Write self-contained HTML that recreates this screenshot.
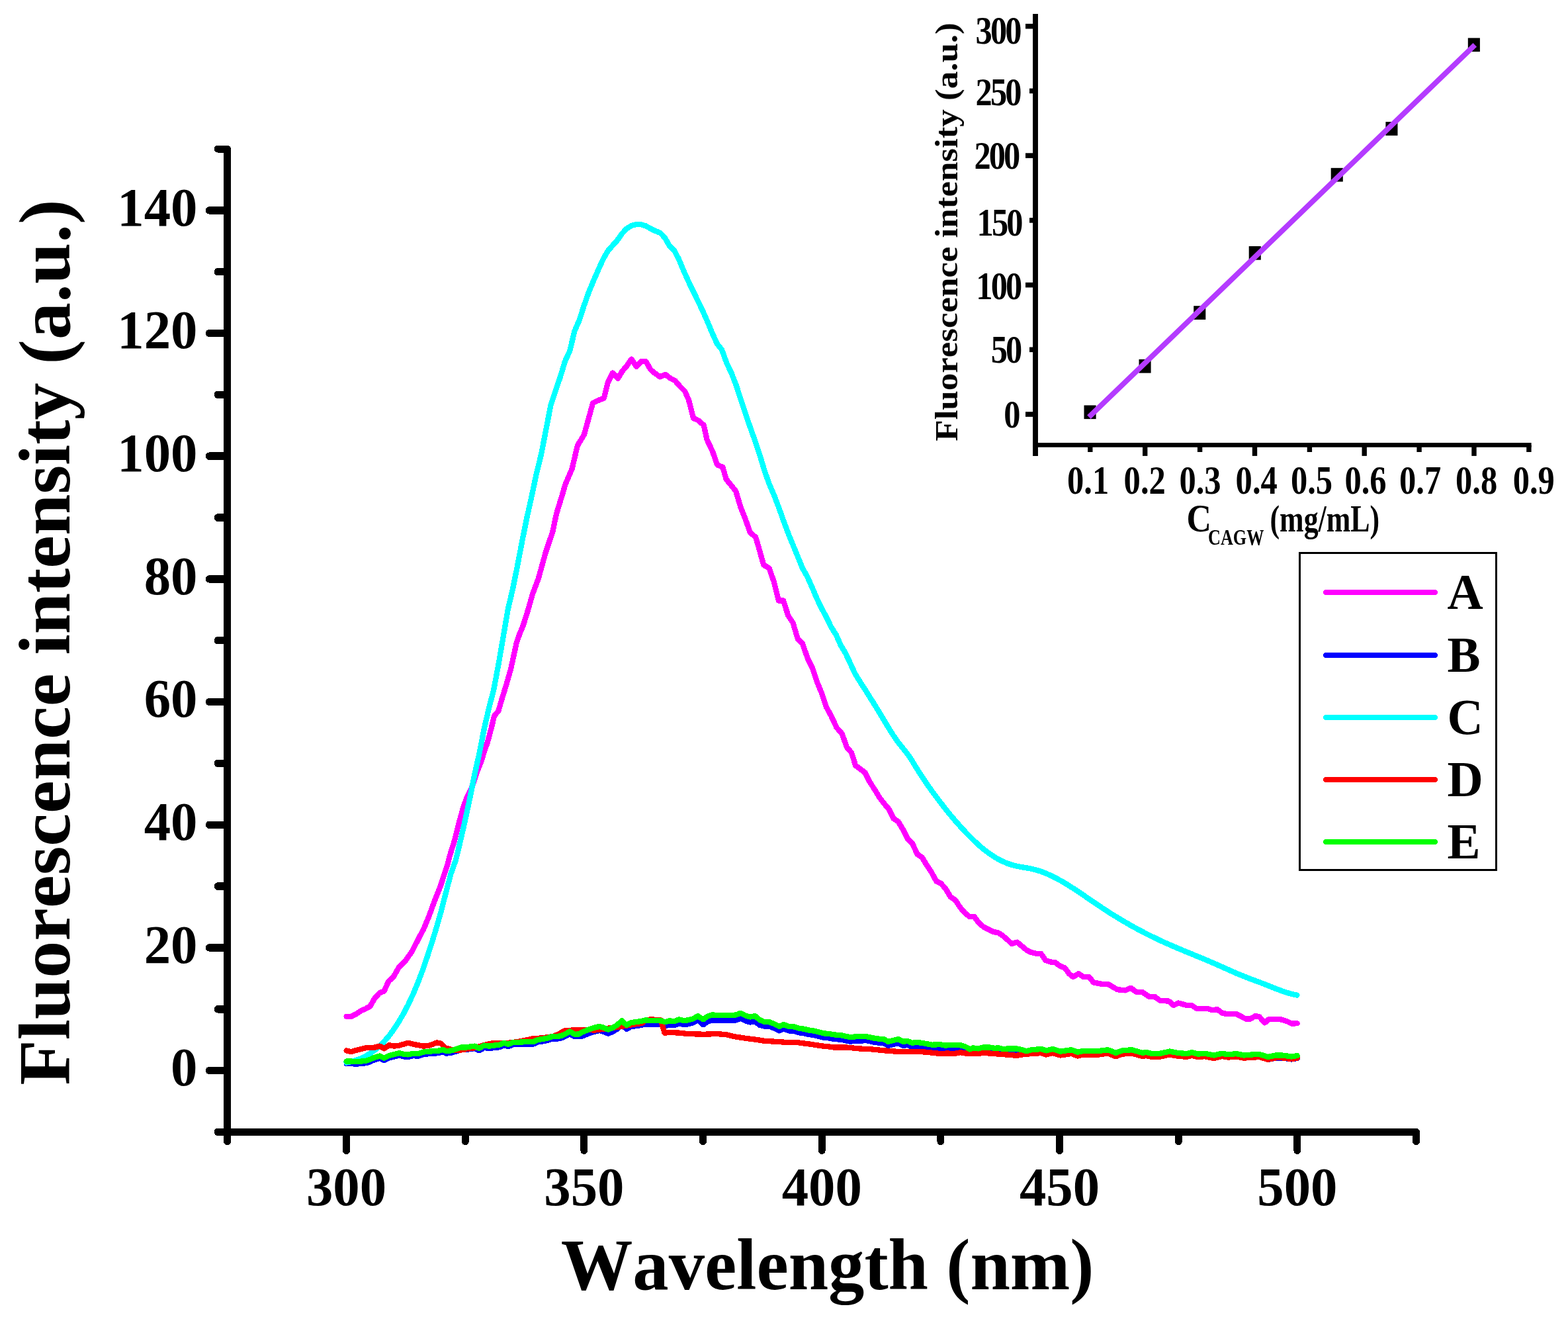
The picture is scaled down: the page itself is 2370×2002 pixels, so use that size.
<!DOCTYPE html>
<html lang="en">
<head>
<meta charset="utf-8">
<title>Fluorescence spectra</title>
<style>
html,body{margin:0;padding:0;background:#fff;}
body{width:2370px;height:2002px;overflow:hidden;}
svg{display:block;}
text{font-family:"Liberation Serif", "DejaVu Serif", serif;font-weight:bold;fill:#000;font-kerning:none;}
</style>
</head>
<body>
<svg width="2370" height="2002" viewBox="0 0 2370 2002">
<rect x="0" y="0" width="2370" height="2002" fill="#fff"/>
<g fill="none" stroke-width="8.3" stroke-linejoin="round" stroke-linecap="round" shape-rendering="crispEdges">
<polyline stroke="#ff00ff" points="523.6,1535.9 531.6,1535.6 538.3,1532.1 546.0,1526.9 552.7,1524.1 559.4,1520.6 566.1,1508.7 573.8,1500.1 580.5,1497.6 587.3,1482.6 594.8,1475.9 602.4,1462.3 612.1,1452.6 622.8,1437.5 631.5,1420.3 640.1,1404.1 648.7,1383.6 657.3,1359.9 665.9,1338.4 676.4,1306.3 680.4,1291.0 687.1,1269.7 694.2,1241.4 700.2,1220.1 705.2,1205.9 712.3,1191.7 717.3,1177.6 722.2,1163.4 727.9,1149.2 732.1,1135.0 737.1,1120.9 742.8,1099.6 747.0,1081.9 753.4,1074.1 758.6,1056.2 765.3,1034.5 772.1,1010.7 780.9,970.5 785.7,957.1 790.7,945.2 798.2,921.4 805.0,897.6 813.9,873.8 820.5,850.0 824.6,835.2 829.2,821.4 835.3,803.6 841.1,776.0 849.5,749.0 854.5,731.7 864.5,708.7 872.9,673.2 882.9,656.8 888.9,635.2 896.1,608.9 903.3,605.3 912.8,601.7 918.8,577.8 926.0,563.4 933.9,571.8 940.4,561.0 947.6,552.6 954.3,542.6 961.9,553.8 969.1,546.2 976.3,546.2 983.5,558.6 990.7,564.6 997.8,569.4 1005.7,565.8 1013.4,571.8 1020.6,575.4 1027.8,583.8 1035.0,590.9 1040.9,604.1 1048.1,631.7 1055.3,635.2 1063.7,642.4 1068.5,664.0 1076.9,681.9 1084.1,702.3 1092.4,705.9 1097.6,724.0 1112.3,742.3 1119.4,766.2 1126.6,784.2 1133.8,804.5 1142.2,811.7 1148.2,832.1 1154.2,853.6 1162.5,858.4 1169.7,878.8 1176.9,907.5 1184.1,907.5 1191.3,930.2 1198.5,941.0 1205.7,965.0 1212.8,972.1 1221.2,996.1 1228.4,1010.5 1235.6,1032.0 1241.6,1046.4 1248.8,1067.9 1256.6,1082.3 1264.4,1099.1 1272.7,1108.7 1279.9,1129.0 1287.1,1137.4 1293.1,1156.6 1307.5,1167.3 1314.7,1181.7 1321.8,1192.5 1329.0,1204.5 1336.2,1214.0 1343.4,1222.4 1350.6,1236.8 1357.8,1241.6 1364.9,1253.5 1372.1,1267.9 1379.3,1275.1 1386.5,1290.7 1393.7,1295.5 1400.9,1307.4 1408.0,1318.2 1415.2,1331.4 1422.4,1335.0 1429.6,1343.3 1436.8,1355.3 1444.0,1360.1 1451.1,1370.9 1458.3,1379.3 1465.5,1385.2 1472.7,1385.2 1479.9,1394.8 1487.1,1400.8 1494.3,1404.4 1501.4,1408.0 1508.6,1409.2 1515.8,1414.0 1523.0,1420.0 1529.0,1426.0 1537.4,1423.6 1544.5,1429.5 1551.7,1435.5 1558.9,1439.1 1566.1,1440.8 1573.3,1440.8 1580.5,1451.1 1587.6,1453.5 1594.8,1454.0 1602.0,1459.5 1609.5,1462.4 1615.9,1471.2 1621.8,1476.0 1630.2,1471.2 1637.4,1476.0 1645.8,1476.0 1653.0,1484.4 1664.9,1486.8 1674.5,1486.8 1688.9,1495.2 1700.9,1496.4 1709.2,1492.8 1717.6,1498.8 1726.0,1498.8 1736.8,1505.9 1745.2,1505.9 1753.5,1511.9 1766.7,1512.6 1773.9,1519.1 1781.1,1515.5 1794.3,1519.1 1801.4,1519.1 1808.6,1523.9 1825.4,1523.9 1832.6,1526.3 1839.8,1525.1 1848.1,1531.1 1858.9,1532.3 1868.5,1531.8 1882.9,1539.5 1890.0,1539.5 1897.2,1535.2 1903.2,1535.9 1911.6,1545.5 1917.6,1540.2 1935.5,1540.2 1945.1,1543.1 1952.3,1546.6 1960.7,1546.2"/>
<polyline stroke="#0000ff" points="523.6,1607.1 530.7,1607.1 538.3,1607.6 546.0,1607.1 553.6,1606.1 559.4,1604.2 566.1,1601.3 573.8,1599.0 580.5,1602.3 588.1,1598.4 595.8,1596.5 603.4,1594.6 611.1,1596.5 616.9,1596.9 624.5,1595.2 632.2,1595.6 639.8,1593.1 647.5,1592.3 655.2,1591.7 662.8,1591.2 669.5,1589.4 674.3,1591.7 682.0,1590.8 689.7,1588.5 697.3,1586.0 705.0,1586.0 710.7,1585.0 717.4,1584.1 724.1,1587.3 731.8,1583.1 739.5,1584.1 747.1,1583.1 754.8,1582.2 761.5,1579.3 768.2,1581.2 775.9,1578.3 783.5,1578.3 791.2,1577.8 798.9,1577.8 806.5,1577.4 813.2,1574.5 819.9,1573.5 827.6,1572.0 834.3,1569.7 841.0,1569.7 847.7,1568.7 854.4,1565.9 861.1,1562.0 868.8,1566.3 875.5,1565.9 880.0,1565.5 889.6,1561.7 898.2,1558.8 905.9,1556.9 912.6,1558.8 919.3,1561.7 926.0,1558.8 932.7,1555.0 939.8,1548.3 947.0,1555.0 953.8,1551.1 960.5,1550.2 968.1,1549.2 975.8,1547.3 983.4,1548.3 991.1,1548.3 998.8,1548.3 1005.5,1550.2 1012.2,1548.3 1018.9,1549.2 1026.6,1546.3 1033.3,1548.3 1040.0,1547.3 1047.6,1545.4 1054.7,1541.2 1063.0,1548.3 1069.7,1543.6 1077.3,1541.3 1084.0,1542.2 1090.7,1542.2 1098.4,1542.2 1106.1,1542.2 1112.8,1541.3 1119.5,1538.8 1127.1,1542.6 1133.8,1544.5 1141.5,1543.2 1148.2,1548.9 1155.9,1550.7 1162.6,1550.7 1170.2,1553.5 1177.9,1557.4 1184.6,1554.5 1192.3,1557.4 1199.9,1557.8 1207.6,1560.3 1215.2,1561.2 1222.9,1563.1 1230.6,1564.1 1238.2,1566.0 1245.9,1567.9 1253.6,1568.5 1260.0,1569.8 1271.5,1570.8 1284.9,1573.7 1294.5,1572.7 1309.8,1572.2 1323.2,1575.1 1336.6,1576.4 1342.4,1579.9 1350.0,1578.0 1357.7,1576.0 1365.4,1579.9 1371.1,1578.9 1378.8,1581.8 1386.4,1580.8 1397.9,1582.7 1409.4,1584.7 1420.9,1584.1 1428.6,1585.6 1436.2,1585.0 1449.7,1584.7 1459.2,1585.5 1465.9,1589.4 1470.7,1587.4 1478.4,1588.4 1486.1,1586.5 1495.6,1586.5 1503.3,1587.8 1509.0,1587.4 1516.7,1589.0 1524.4,1588.4 1535.9,1588.4 1545.4,1590.3 1551.2,1592.2 1558.9,1590.3 1573.9,1589.0 1581.1,1591.4 1590.7,1589.0 1602.7,1592.6 1619.4,1590.2 1629.0,1593.8 1636.2,1592.1 1660.2,1592.1 1674.5,1590.2 1686.5,1594.9 1696.1,1591.4 1710.4,1590.2 1727.2,1594.9 1732.0,1593.8 1741.6,1596.1 1753.5,1595.7 1767.9,1592.6 1779.9,1594.9 1794.3,1596.1 1801.4,1594.2 1811.0,1596.6 1820.6,1595.7 1835.0,1598.5 1846.9,1595.7 1856.5,1597.3 1868.5,1596.1 1880.5,1598.5 1894.8,1597.3 1904.4,1597.3 1916.4,1600.9 1928.4,1598.5 1937.9,1598.5 1952.3,1600.5 1960.7,1599.0"/>
<polyline stroke="#00ffff" points="523.5,1605.5 530.7,1604.1 537.9,1602.1 545.1,1599.4 552.2,1596.0 559.4,1591.8 566.6,1586.6 573.8,1580.5 581.0,1573.2 588.2,1564.9 595.3,1555.2 602.5,1544.3 609.7,1531.9 616.9,1518.1 624.1,1502.7 631.3,1485.6 638.5,1466.7 645.6,1446.2 652.8,1424.2 660.0,1400.7 667.2,1375.2 674.4,1347.1 681.6,1320.0 688.7,1300.3 695.9,1270.8 703.1,1239.0 710.3,1205.5 717.5,1169.5 724.7,1137.4 731.9,1100.4 739.0,1070.0 746.2,1042.4 753.4,1004.2 760.6,962.5 767.8,920.6 775.0,890.0 782.1,854.8 789.3,817.3 796.5,781.7 803.7,749.5 810.9,715.3 818.1,686.2 825.2,649.7 832.4,612.6 839.6,590.6 846.8,569.7 854.0,546.0 861.2,530.3 868.4,500.4 875.5,484.1 882.7,461.8 889.9,441.5 897.1,424.1 904.3,407.7 911.5,391.9 918.6,379.4 925.8,371.1 933.0,363.2 940.2,352.8 947.4,345.3 954.6,341.0 961.8,339.0 968.9,339.1 976.1,341.4 983.3,345.4 990.5,349.0 997.7,351.7 1004.9,359.1 1012.0,371.7 1019.2,378.3 1026.4,392.5 1033.6,409.8 1040.8,425.7 1048.0,440.7 1055.2,455.2 1062.3,470.2 1069.5,486.4 1076.7,503.6 1083.9,519.5 1091.1,528.6 1098.3,548.4 1105.4,563.3 1112.6,581.8 1119.8,603.7 1127.0,625.8 1134.2,646.4 1141.4,666.6 1148.6,688.2 1155.7,711.8 1162.9,731.8 1170.1,748.5 1177.3,767.3 1184.5,787.5 1191.7,806.8 1198.8,824.0 1206.0,841.5 1213.2,859.1 1220.4,871.6 1227.6,887.8 1234.8,904.7 1242.0,919.4 1249.1,932.6 1256.3,947.5 1263.5,958.7 1270.7,974.9 1277.9,986.8 1285.1,1002.0 1292.2,1017.6 1299.4,1029.3 1306.6,1040.4 1313.8,1051.8 1321.0,1063.3 1328.2,1075.0 1335.3,1086.9 1342.5,1098.8 1349.7,1110.3 1356.9,1120.7 1364.1,1129.7 1371.3,1138.7 1378.5,1149.4 1385.6,1161.0 1392.8,1172.4 1400.0,1183.1 1407.2,1193.3 1414.4,1203.1 1421.6,1212.6 1428.7,1221.8 1435.9,1230.7 1443.1,1239.2 1450.3,1247.4 1457.5,1255.3 1464.7,1262.8 1471.9,1269.9 1479.0,1276.6 1486.2,1282.7 1493.4,1288.2 1500.6,1293.2 1507.8,1297.6 1515.0,1301.3 1522.1,1304.4 1529.3,1306.8 1536.5,1308.7 1543.7,1310.0 1550.9,1311.2 1558.1,1312.5 1565.3,1314.2 1572.4,1316.4 1579.6,1319.1 1586.8,1322.2 1594.0,1325.7 1601.2,1329.5 1608.4,1333.6 1615.5,1338.0 1622.7,1342.6 1629.9,1347.3 1637.1,1352.2 1644.3,1357.1 1651.5,1362.0 1658.7,1366.9 1665.8,1371.7 1673.0,1376.4 1680.2,1381.0 1687.4,1385.4 1694.6,1389.8 1701.8,1394.0 1708.9,1398.1 1716.1,1402.1 1723.3,1405.9 1730.5,1409.7 1737.7,1413.3 1744.9,1416.8 1752.0,1420.3 1759.2,1423.6 1766.4,1426.8 1773.6,1429.9 1780.8,1433.0 1788.0,1436.0 1795.2,1439.0 1802.3,1441.9 1809.5,1444.9 1816.7,1447.8 1823.9,1450.8 1831.1,1453.9 1838.3,1457.0 1845.4,1460.2 1852.6,1463.4 1859.8,1466.6 1867.0,1469.8 1874.2,1472.8 1881.4,1475.7 1888.6,1478.5 1895.7,1481.2 1902.9,1483.8 1910.1,1486.6 1917.3,1489.4 1924.5,1492.3 1931.7,1495.1 1938.8,1497.7 1946.0,1500.1 1953.2,1502.1 1960.4,1503.6"/>
<polyline stroke="#ff0000" points="523.6,1587.3 530.7,1589.2 538.3,1586.9 546.0,1585.0 553.6,1583.1 561.3,1582.9 567.0,1582.5 573.8,1580.6 580.5,1584.4 588.1,1579.2 595.8,1580.6 603.4,1579.6 610.2,1577.7 616.9,1575.8 624.5,1577.7 632.2,1579.2 639.8,1580.6 647.5,1580.0 653.3,1578.1 660.0,1575.4 666.7,1576.7 673.4,1583.4 682.0,1585.7 691.6,1587.3 703.1,1585.4 716.5,1583.4 729.9,1579.6 741.4,1576.7 754.8,1575.8 768.2,1575.8 783.5,1573.9 795.0,1571.6 806.5,1569.1 818.0,1568.5 835.2,1566.2 844.8,1562.4 852.5,1557.6 864.0,1556.6 883.1,1555.7 899.2,1556.6 918.3,1553.8 937.5,1551.3 956.6,1548.0 970.0,1546.1 975.8,1541.7 983.4,1540.3 998.8,1541.3 1004.5,1560.5 1014.1,1560.1 1025.6,1560.5 1039.0,1562.0 1063.9,1562.8 1083.1,1562.0 1098.4,1563.3 1109.9,1566.2 1129.0,1569.1 1144.4,1571.0 1155.9,1572.9 1175.0,1573.9 1186.5,1574.8 1205.7,1575.2 1224.8,1577.7 1244.0,1580.6 1253.6,1581.5 1260.0,1582.5 1279.2,1582.5 1298.3,1584.4 1317.5,1585.4 1336.6,1587.3 1355.8,1588.8 1374.9,1589.2 1394.1,1589.2 1413.3,1591.1 1420.9,1592.1 1432.4,1591.5 1442.0,1592.1 1451.6,1590.2 1463.1,1592.1 1489.9,1591.1 1509.0,1592.6 1528.2,1594.0 1535.9,1594.9 1548.7,1592.9 1573.9,1591.1 1581.1,1593.5 1590.7,1591.0 1602.7,1594.5 1619.4,1592.0 1629.0,1595.5 1636.2,1593.8 1660.2,1593.6 1674.5,1591.6 1686.5,1596.3 1696.1,1592.7 1710.4,1591.4 1727.2,1596.1 1732.0,1594.9 1741.6,1597.2 1753.5,1596.6 1767.9,1593.4 1779.9,1595.7 1794.3,1596.8 1801.4,1594.9 1811.0,1597.2 1820.6,1596.2 1835.0,1599.0 1846.9,1596.0 1856.5,1597.6 1868.5,1596.3 1880.5,1598.7 1894.8,1597.4 1904.4,1597.3 1916.4,1600.8 1928.4,1598.3 1937.9,1598.3 1952.3,1600.1 1960.7,1598.6"/>
<polyline stroke="#00ff00" points="523.6,1603.6 530.7,1603.6 538.3,1604.1 546.0,1603.6 553.6,1602.6 559.4,1600.7 566.1,1597.8 573.8,1595.5 580.5,1598.8 588.1,1594.9 595.8,1593.0 603.4,1591.1 611.1,1593.0 616.9,1593.4 624.5,1591.7 632.2,1592.1 639.8,1589.6 647.5,1588.8 655.2,1588.2 662.8,1587.7 669.5,1585.9 674.3,1588.2 682.0,1587.3 689.7,1585.0 697.3,1582.5 705.0,1582.5 710.7,1581.5 717.4,1580.6 724.1,1583.8 731.8,1579.6 739.5,1580.6 747.1,1579.6 754.8,1578.7 761.5,1575.8 768.2,1577.7 775.9,1574.8 783.5,1574.8 791.2,1574.3 798.9,1574.3 806.5,1573.9 813.2,1571.0 819.9,1570.0 827.6,1568.5 834.3,1566.2 841.0,1566.2 847.7,1565.2 854.4,1562.4 861.1,1558.5 868.8,1562.8 875.5,1562.4 880.0,1559.5 889.6,1555.7 898.2,1552.8 905.9,1550.9 912.6,1552.8 919.3,1555.7 926.0,1552.8 932.7,1549.0 939.8,1542.3 947.0,1549.0 953.8,1545.1 960.5,1544.2 968.1,1543.2 975.8,1541.3 983.4,1542.3 991.1,1542.3 998.8,1542.3 1005.5,1544.2 1012.2,1542.3 1018.9,1543.2 1026.6,1540.3 1033.3,1542.3 1040.0,1541.3 1047.6,1539.4 1054.7,1535.2 1063.0,1540.3 1069.7,1535.6 1077.3,1533.3 1084.0,1534.2 1090.7,1534.2 1098.4,1534.2 1106.1,1534.2 1112.8,1533.3 1119.5,1530.8 1127.1,1534.6 1133.8,1536.5 1141.5,1535.2 1148.2,1540.9 1155.9,1544.2 1162.6,1544.2 1170.2,1547.0 1177.9,1550.9 1184.6,1548.0 1192.3,1550.9 1199.9,1551.3 1207.6,1553.8 1215.2,1554.7 1222.9,1556.6 1230.6,1557.6 1238.2,1559.5 1245.9,1561.4 1253.6,1562.0 1260.0,1563.3 1271.5,1564.3 1284.9,1567.2 1294.5,1566.2 1309.8,1566.2 1323.2,1569.1 1336.6,1570.4 1342.4,1573.9 1350.0,1572.0 1357.7,1570.0 1365.4,1573.9 1371.1,1572.9 1378.8,1575.8 1386.4,1574.8 1397.9,1576.7 1409.4,1578.7 1420.9,1578.1 1428.6,1579.6 1436.2,1579.0 1449.7,1578.7 1459.2,1581.5 1465.9,1585.4 1470.7,1583.4 1478.4,1584.4 1486.1,1582.5 1495.6,1582.5 1503.3,1583.8 1509.0,1583.4 1516.7,1585.0 1524.4,1584.4 1535.9,1584.4 1545.4,1586.3 1551.2,1588.2 1558.9,1586.3 1573.9,1585.0 1581.1,1587.4 1590.7,1585.0 1602.7,1588.6 1619.4,1586.2 1629.0,1589.8 1636.2,1588.1 1660.2,1588.1 1674.5,1586.2 1686.5,1590.9 1696.1,1587.4 1710.4,1586.2 1727.2,1590.9 1732.0,1589.8 1741.6,1592.1 1753.5,1591.7 1767.9,1588.6 1779.9,1590.9 1794.3,1592.1 1801.4,1590.2 1811.0,1592.6 1820.6,1591.7 1835.0,1594.5 1846.9,1591.7 1856.5,1593.3 1868.5,1592.1 1880.5,1594.5 1894.8,1593.3 1904.4,1593.3 1916.4,1596.9 1928.4,1594.5 1937.9,1594.5 1952.3,1596.5 1960.7,1595.0"/>
</g>
<g stroke="#000" fill="none" stroke-linecap="round" stroke-linejoin="round" shape-rendering="crispEdges">
<path d="M329.3,225.1 L343.6,225.1 L343.6,1724.6" stroke-width="11"/>
<path d="M329.3,1710.6 L2140.6,1710.6 L2140.6,1724.6" stroke-width="11"/>
<line x1="329.3" y1="1710.4" x2="341.6" y2="1710.4" stroke-width="11.5"/>
<line x1="316.5" y1="1617.6" x2="341.6" y2="1617.6" stroke-width="11.5"/>
<line x1="329.3" y1="1524.8" x2="341.6" y2="1524.8" stroke-width="11.5"/>
<line x1="316.5" y1="1431.9" x2="341.6" y2="1431.9" stroke-width="11.5"/>
<line x1="329.3" y1="1339.1" x2="341.6" y2="1339.1" stroke-width="11.5"/>
<line x1="316.5" y1="1246.3" x2="341.6" y2="1246.3" stroke-width="11.5"/>
<line x1="329.3" y1="1153.4" x2="341.6" y2="1153.4" stroke-width="11.5"/>
<line x1="316.5" y1="1060.6" x2="341.6" y2="1060.6" stroke-width="11.5"/>
<line x1="329.3" y1="967.7" x2="341.6" y2="967.7" stroke-width="11.5"/>
<line x1="316.5" y1="874.9" x2="341.6" y2="874.9" stroke-width="11.5"/>
<line x1="329.3" y1="782.1" x2="341.6" y2="782.1" stroke-width="11.5"/>
<line x1="316.5" y1="689.2" x2="341.6" y2="689.2" stroke-width="11.5"/>
<line x1="329.3" y1="596.4" x2="341.6" y2="596.4" stroke-width="11.5"/>
<line x1="316.5" y1="503.6" x2="341.6" y2="503.6" stroke-width="11.5"/>
<line x1="329.3" y1="410.7" x2="341.6" y2="410.7" stroke-width="11.5"/>
<line x1="316.5" y1="317.9" x2="341.6" y2="317.9" stroke-width="11.5"/>
<line x1="343.8" y1="1712.6" x2="343.8" y2="1724.6" stroke-width="11"/>
<line x1="523.5" y1="1712.6" x2="523.5" y2="1738.4" stroke-width="11"/>
<line x1="703.2" y1="1712.6" x2="703.2" y2="1724.6" stroke-width="11"/>
<line x1="882.9" y1="1712.6" x2="882.9" y2="1738.4" stroke-width="11"/>
<line x1="1062.5" y1="1712.6" x2="1062.5" y2="1724.6" stroke-width="11"/>
<line x1="1242.2" y1="1712.6" x2="1242.2" y2="1738.4" stroke-width="11"/>
<line x1="1421.9" y1="1712.6" x2="1421.9" y2="1724.6" stroke-width="11"/>
<line x1="1601.5" y1="1712.6" x2="1601.5" y2="1738.4" stroke-width="11"/>
<line x1="1781.2" y1="1712.6" x2="1781.2" y2="1724.6" stroke-width="11"/>
<line x1="1960.9" y1="1712.6" x2="1960.9" y2="1738.4" stroke-width="11"/>
</g>
<g font-size="82">
<text transform="translate(298.5,1640.4) scale(0.985,1)" text-anchor="end">0</text>
<text transform="translate(298.5,1454.7) scale(0.985,1)" text-anchor="end">20</text>
<text transform="translate(298.5,1269.1) scale(0.985,1)" text-anchor="end">40</text>
<text transform="translate(298.5,1083.4) scale(0.985,1)" text-anchor="end">60</text>
<text transform="translate(298.5,897.7) scale(0.985,1)" text-anchor="end">80</text>
<text transform="translate(298.5,712.0) scale(0.985,1)" text-anchor="end">100</text>
<text transform="translate(298.5,526.4) scale(0.985,1)" text-anchor="end">120</text>
<text transform="translate(298.5,340.7) scale(0.985,1)" text-anchor="end">140</text>
<text transform="translate(523.5,1820.8) scale(0.985,1)" text-anchor="middle">300</text>
<text transform="translate(882.9,1820.8) scale(0.985,1)" text-anchor="middle">350</text>
<text transform="translate(1242.2,1820.8) scale(0.985,1)" text-anchor="middle">400</text>
<text transform="translate(1601.5,1820.8) scale(0.985,1)" text-anchor="middle">450</text>
<text transform="translate(1960.9,1820.8) scale(0.985,1)" text-anchor="middle">500</text>
</g>
<text transform="translate(1250.6,1947.5) scale(0.988,1)" font-size="110" text-anchor="middle">Wavelength (nm)</text>
<text transform="translate(105,970.6) rotate(-90) scale(1.019,1)" font-size="110" text-anchor="middle">Fluorescence intensity (a.u.)</text>
<rect x="1964.2" y="835.8" width="297.3" height="478.5" fill="#fff" stroke="#000" stroke-width="3" shape-rendering="crispEdges"/>
<line x1="2004" y1="895.0" x2="2169" y2="895.0" stroke="#ff00ff" stroke-width="8" stroke-linecap="round" shape-rendering="crispEdges"/>
<text transform="translate(2187.6,919.6) scale(0.975,1)" font-size="77">A</text>
<line x1="2004" y1="990.0" x2="2169" y2="990.0" stroke="#0000ff" stroke-width="8" stroke-linecap="round" shape-rendering="crispEdges"/>
<text transform="translate(2187.6,1014.6) scale(0.975,1)" font-size="77">B</text>
<line x1="2004" y1="1084.0" x2="2169" y2="1084.0" stroke="#00ffff" stroke-width="8" stroke-linecap="round" shape-rendering="crispEdges"/>
<text transform="translate(2187.6,1108.6) scale(0.975,1)" font-size="77">C</text>
<line x1="2004" y1="1178.0" x2="2169" y2="1178.0" stroke="#ff0000" stroke-width="8" stroke-linecap="round" shape-rendering="crispEdges"/>
<text transform="translate(2187.6,1202.6) scale(0.975,1)" font-size="77">D</text>
<line x1="2004" y1="1272.0" x2="2169" y2="1272.0" stroke="#00ff00" stroke-width="8" stroke-linecap="round" shape-rendering="crispEdges"/>
<text transform="translate(2187.6,1296.6) scale(0.975,1)" font-size="77">E</text>
<defs><filter id="soft" x="-5%" y="-5%" width="110%" height="110%"><feGaussianBlur stdDeviation="0.7"/></filter></defs>
<g id="inset" filter="url(#soft)">
<g stroke="#000" fill="none">
<line x1="1565.0" y1="21" x2="1565.0" y2="688.9" stroke-width="7.9"/>
<line x1="1561.1" y1="672.4" x2="2314.6" y2="672.4" stroke-width="6.8"/>
<line x1="1550.0" y1="626.0" x2="1565.0" y2="626.0" stroke-width="7.6"/>
<line x1="1556.0" y1="528.3" x2="1565.0" y2="528.3" stroke-width="7.6"/>
<line x1="1550.0" y1="430.6" x2="1565.0" y2="430.6" stroke-width="7.6"/>
<line x1="1556.0" y1="332.9" x2="1565.0" y2="332.9" stroke-width="7.6"/>
<line x1="1550.0" y1="235.1" x2="1565.0" y2="235.1" stroke-width="7.6"/>
<line x1="1556.0" y1="137.4" x2="1565.0" y2="137.4" stroke-width="7.6"/>
<line x1="1550.0" y1="39.7" x2="1565.0" y2="39.7" stroke-width="7.6"/>
<line x1="1647.8" y1="672.4" x2="1647.8" y2="683.0" stroke-width="7.4"/>
<line x1="1730.7" y1="672.4" x2="1730.7" y2="688.9" stroke-width="7.4"/>
<line x1="1813.6" y1="672.4" x2="1813.6" y2="683.0" stroke-width="7.4"/>
<line x1="1896.5" y1="672.4" x2="1896.5" y2="688.9" stroke-width="7.4"/>
<line x1="1979.4" y1="672.4" x2="1979.4" y2="683.0" stroke-width="7.4"/>
<line x1="2062.2" y1="672.4" x2="2062.2" y2="688.9" stroke-width="7.4"/>
<line x1="2145.1" y1="672.4" x2="2145.1" y2="683.0" stroke-width="7.4"/>
<line x1="2228.0" y1="672.4" x2="2228.0" y2="688.9" stroke-width="7.4"/>
<line x1="2310.9" y1="672.4" x2="2310.9" y2="683.0" stroke-width="7.4"/>
</g>
<rect x="1638.5" y="612.4" width="18.1" height="20.7" fill="#000"/>
<rect x="1721.5" y="542.9" width="18.1" height="20.7" fill="#000"/>
<rect x="1804.2" y="462.2" width="18.1" height="20.7" fill="#000"/>
<rect x="1887.7" y="372.0" width="18.1" height="20.7" fill="#000"/>
<rect x="2011.7" y="253.8" width="18.1" height="20.7" fill="#000"/>
<rect x="2094.4" y="184.1" width="18.1" height="20.7" fill="#000"/>
<rect x="2218.8" y="57.4" width="18.1" height="20.7" fill="#000"/>
<line x1="1645.9" y1="630.2" x2="2229.3" y2="67.9" stroke="#b43aff" stroke-width="8"/>
<text transform="translate(1541.5,66.0) scale(0.855,1)" font-size="59" letter-spacing="-3.4" text-anchor="end">300</text>
<text transform="translate(1541.5,158.5) scale(0.855,1)" font-size="59" letter-spacing="-3.4" text-anchor="end">250</text>
<text transform="translate(1539.4,254.6) scale(0.855,1)" font-size="59" letter-spacing="-3.4" text-anchor="end">200</text>
<text transform="translate(1543.5,356.3) scale(0.855,1)" font-size="59" letter-spacing="-3.4" text-anchor="end">150</text>
<text transform="translate(1542.3,452.3) scale(0.855,1)" font-size="59" letter-spacing="-3.4" text-anchor="end">100</text>
<text transform="translate(1542.3,548.3) scale(0.855,1)" font-size="59" letter-spacing="-3.4" text-anchor="end">50</text>
<text transform="translate(1539.6,646.2) scale(0.855,1)" font-size="59" letter-spacing="-3.4" text-anchor="end">0</text>
<text transform="translate(1644.6,746.0) scale(0.822,1)" font-size="61.5" text-anchor="middle">0.1</text>
<text transform="translate(1730.2,746.0) scale(0.822,1)" font-size="61.5" text-anchor="middle">0.2</text>
<text transform="translate(1814.0,746.0) scale(0.822,1)" font-size="61.5" text-anchor="middle">0.3</text>
<text transform="translate(1899.2,746.0) scale(0.822,1)" font-size="61.5" text-anchor="middle">0.4</text>
<text transform="translate(1982.5,746.0) scale(0.822,1)" font-size="61.5" text-anchor="middle">0.5</text>
<text transform="translate(2064.0,746.0) scale(0.822,1)" font-size="61.5" text-anchor="middle">0.6</text>
<text transform="translate(2146.6,746.0) scale(0.822,1)" font-size="61.5" text-anchor="middle">0.7</text>
<text transform="translate(2231.6,746.0) scale(0.822,1)" font-size="61.5" text-anchor="middle">0.8</text>
<text transform="translate(2318.3,746.0) scale(0.822,1)" font-size="61.5" text-anchor="middle">0.9</text>
<text transform="translate(1447,350.4) rotate(-90) scale(1.115,1)" font-size="47.5" text-anchor="middle">Fluorescence intensity (a.u.)</text>
<text transform="translate(1793.5,803) scale(0.865,1)" font-size="60">C</text>
<text transform="translate(1826,823) scale(0.77,1)" font-size="34">CAGW</text>
<text transform="translate(1919.5,803) scale(0.77,1)" font-size="57">(mg/mL)</text>
</g>
</svg>
</body>
</html>
